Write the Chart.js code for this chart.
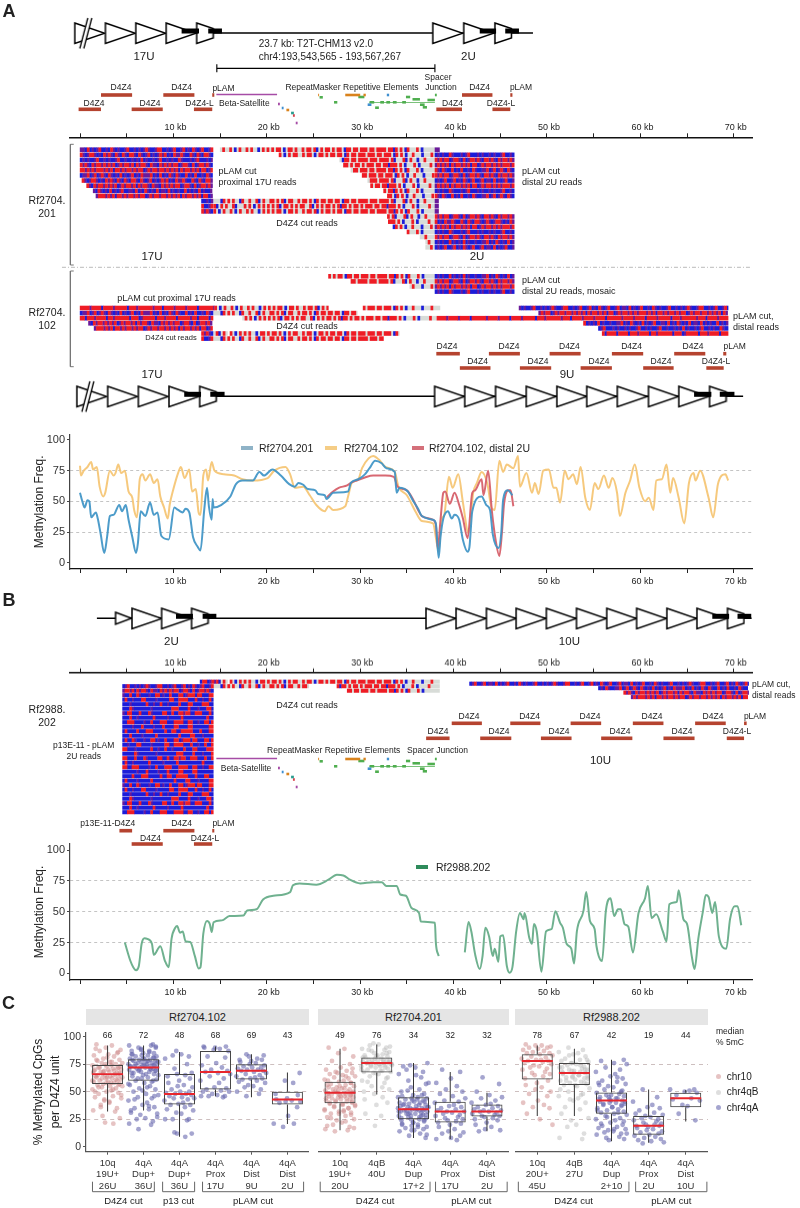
<!DOCTYPE html>
<html>
<head>
<meta charset="utf-8">
<script src="https://cdn.jsdelivr.net/npm/chart.js@4"></script>
<style>
  html, body { margin: 0; padding: 0; background: #fff; }
  body { position: relative; width: 800px; height: 1208px; overflow: hidden; font-family: "Liberation Sans", Arial, sans-serif; color: #222; }
  canvas { position: absolute; }
  .note { position: absolute; white-space: nowrap; line-height: 1; z-index: 5; }
  .strip { position: absolute; top: 1009px; height: 16px; line-height: 16px; background: #e5e5e5; text-align: center; font-size: 11px; color: #222; }
  .swatch { position: absolute; z-index: 5; }
</style>
</head>
<body>
<script>
// ---------- methylation lines, kb position and % methylation ----------
var blueKb = [0,.25,.5,.8,1,1.2,1.7,1.9,2.2,2.6,2.9,3.2,3.6,4.2,4.5,4.9,5.2,5.6,6,6.2,6.5,7,7.5,7.9,8.3,8.7,9.5,10.1,10.5,11,11.3,11.7,12.1,12.6,12.9,13.3,13.6,13.8,14.1,14.2,14.3,15.1,16.1,16.7,17.4,18.5,19.2,19.7,20.6,21.5,22.4,23,23.4,23.9,24.4,25.2,25.5,26.2,26.4,27.1,28.7,29,29.8,30.5,31,31.6,32.3,32.8,33.7,33.9,34.2,35.1,35.7,36.2,36.6,37.8,38.1,38.4,38.6,38.9,39.4,39.8,40.1,40.6,41,41.5,41.7,42,43,43.5,43.9,44.2,44.8,45.1,45.3,45.8,46.3];
var blueVal = [57,50,45,51,50,37,41,36,24,8,21,38,39,47,42,47,35,21,8,16,42,38,49,39,41,22,19,45,43,41,44,41,21,13,10,43,61,46,35,52,45,47,54,64,67,67,74,71,76,71,64,62,65,63.5,60,59,56,55,52,57,58,65,68,72,77,83,81,77,74,57,61,58,50,44,38,35,32,4,21,36,42,36,39,35,18.5,9,13,42,54,47,43,23,12,24,51,59,55];

var yellowKb = [0,.1,.4,.8,1.2,1.4,1.8,2.1,2.5,2.7,3.2,3.6,3.8,4.1,4.4,4.8,5.2,5.6,5.8,6.1,6.4,6.7,7,7.5,7.9,8.3,8.6,9,9.4,9.6,10,10.5,10.8,11.2,11.7,12,12.4,12.7,12.9,13.2,13.5,13.7,14.1,14.4,15.4,16.5,17.4,18.5,20.1,20.8,22,22.5,23,23.9,24.6,25.3,26.2,26.6,27.1,28.4,28.7,29.1,29.8,30.2,30.9,31.4,32,32.7,33.7,34.1,35,35.9,36.6,37.8,38.2,38.4,38.7,39,39.5,39.9,40.5,41,41.6,42.1,42.5,43,43.6,44.1,44.4,44.9,45.3,45.7,46.4,46.9,47.1,47.8,48.4,48.7,49.1,49.6,50.2,50.7,51,51.4,51.9,52.3,52.8,53.2,53.6,54.1,54.6,55.1,55.5,56.1,56.6,57,57.5,57.8,58.4,58.9,59.4,59.9,60.5,60.9,61.4,61.7,62.3,62.8,63.2,63.5,64.1,64.7,65.2,65.7,65.9,66.4,67.3,67.8,68.3,69.1,69.4];
var yellowVal = [79,71,75,78,82,76,78,62,54,57,75,71,73,80,73,75,58,53,43,37,68,72,67,72,65,68,54,45,36,47,60,73,78,69,76,58,60,41,39,71,76,67,82,75,72,71,68,67,69,75,78,72,61,62,55,47,42,46,43,46,54,65,68,77,85,87,84,78,74,62,55,42,34,32,16,9,35,39,70,61,72,49,24,57,65,74,65,44,43,83,74,80,77,87,62,73,57,65,56,75,76,61,61,49,75,68,72,64,78,53,43,65,60,71,61,69,57,38,57,67,80,61,50,53,43,67,68,80,57,69,53,32,65,73,67,75,53,37,64,72,67];

var redKb = [26.4,27.1,27.7,28.6,29,29.6,30.5,31.4,32.7,33.6,34,35,35.7,36.2,36.6,37.8,38.1,38.3,38.6,38.9,39.1,39.6,40.1,40.6,41,41.5,42,42.3,43,43.2,43.7,44.1,44.5,44.9,45.2,45.4,45.9,46.1,46.4];
var redVal = [53,58,61,63,65,67,69.5,71,71,70,62,59,51,43,38,35,31,12,35,57,58,48,57,47,36,20,57,59,68,55,75,42,18.5,5.5,27,48,59,59,46];

var greenKb = [4.8,5.4,5.7,6,6.3,6.6,6.9,7.2,7.7,7.9,8.6,9.1,9.5,9.8,10.2,10.4,10.7,11,11.3,11.8,12.3,12.7,12.9,13.2,13.6,13.9,14.1,14.3,15.2,16,17.5,17.9,18.9,19.6,20.7,22.5,22.8,23.5,25.3,26.6,27.5,28.2,28.9,30,31.4,32.3,32.8,33.9,34.3,34.9,35.5,36.3,36.5,38,38.1,38.4];
var greenVal = [25,10,5,2.5,6,24,28.5,28,24,15,22,10,5,28,37,38.5,33,34,26,25.5,14,4,5,32,42.5,40,33.5,41.5,43,46.5,47,51,52,60,63,66,71.5,73,72,76,80,79.5,76,73,74,74,71,71,64,63,53,49,42,41,25,14];
var green2Kb = [41.2,41.6,41.9,42.3,42.8,43.1,43.4,43.8,44.2,44.4,44.8,45,45.3,45.7,46,46.3,46.7,47.1,47.5,47.6,48.1,48.4,48.6,48.9,49.4,49.9,50.5,50.9,51.4,51.7,52.1,52.6,52.9,53.2,53.9,54.2,54.6,55.1,55.3,55.9,56.3,56.8,57.2,57.6,57.9,58.3,58.7,59.2,59.8,60.5,60.8,61.2,61.7,62.4,62.8,63.1,63.9,64.1,64.6,65,65.5,65.8,66.2,66.7,67,67.3,67.7,68,68.4,69.2,69.6,70.1,70.4,70.8];
var green2Val = [17,41.7,34,15.6,3.5,14,37,30,14,20,9.4,30,31,6,.5,5,34,49,44,49,29,24,40,34,1.3,34,36,50.5,41,37,24,20,8,34,50.5,66,42.5,36,22,10,50.5,61,46.5,52,52,40,38,17,49,61,71,45,48,34,26,56,58,67.5,44,40,14,3.5,28,50.5,63.5,62,49,58,30,20,44,54.5,54.5,39];

// ---------- read pileups: one string per read, 0.25 kb per letter ----------
// r = red, b = blue, p = both, g = grey (no call), w = nothing
var dense = {
  d0: "ppbrbpbprbbpbrpbpbbprbbpbpbprpbbprrbbpbprbbprbpbrpbprbbprb",
  d1: "rpbprrpbpbrprpbrpbrpbrrpbrpbprbpbprprbpbrpprpbbrpbrpbrrpbp",
  d2: "bpbpbbprbbpbpbbprbbpbbpbpbrbpbbpbprbbpbpbbrpbbbpbprbbbpbpb",
  d3: "rprpbrprrprprprbprprrprbrprrpbrppbrprprprrbprrpbrbprrprpbr",
  d4: "prrrpprrprpbrrprprrprrprrprbrrprrbrprprrprrrprpbprrpbrprrp",
  d5: "bpprbprbprpbrpbpbrbpbprbpbrppprbpbrbpbrpbrpbbrbpbrbbpbrpb",
  d6: "rrprprprrrprprbrrprprrprprrbprprrprrprprprbrprrprprbrrbprp",
  d7: "bpprbpbrpbpbrbpbprbbppbrbpbrpbpbrbppbrbpbpbbrbpbpbrbpbbpb",
  h0: "rrrrprrrrbrrrrprrrrrbrrrprrrrrrprrrbrrrrprrrrprrrrbrrrrrrp",
  h1: "rrbrrrprrrrbrrprrrrrrbrrrbprrrrrbrrrprrrrbrrrrrprrbrrrrbrr",
  n0: "pppppppppppppppppppp"
};
// these run from 14 kb to 38 kb
var stripes = {
  s0: "grgbgrggrgbgrggrgrggbgrgrgrgrrgbgrrgrggrgrrgrbgrgrrgrgrrgbrrgrrgrrrgrrgrrrrgrrbrgrgbrgggrgbggggg",
  s1: "ggrbgrgwrgbgrgrgrggbgrrgrgrrgrgbgrgrrggrgrrgbgrrgrgrrgrrgbrgrrgrrrgrrrgrrgrrrgbrgrgbggrgggbgggrg",
  s2: "rgggbrgrgrggbrggrggrbgrggrrgrgrbgrrggrgrrgrgbrgrrgrrgrrgbrrgrrgrrrrgrrrgrrrrgrbgggrbgrggbggrgggg",
  s3: "grbgrgrggrbgggrgrgbgrgrgrgrgrbgrrgrgrgrrggrbgrgrgrrgrgrbrrgrgrrgrgrrrgrrgrrbrrrgrgbgggrgbggggrgg"
};
var denseB = [
  "bbbbbbbbbbbbbbbbbbpbbrbbrpbbbpbbrrbpbbrbbbrrbprrrbrrbbbrrbrr",
  "bbbbbbbbbbbbbbbbbbbbrbbpbbbrrbbbbpbbbbbrrbbrrrrbbbrbbpbbrbbr",
  "bbbbbbbbbbbbbbbbbbrrbbbpbbbbbbrbbpbbrbbpbbbbrbbbrrbbbbrrrbbb",
  "bbbbbbbbbbbbbbbbbbbbbbbbrpbbbbbbbpbbbbbbbbrrrbbbbrbbbpbbbrrb",
  "bbbbbbbbbbbbbbbbbbpbrrbbbrbbbrpbbbbrrbbrbbrrprrbbrrrbbbrbbrr",
  "bbbbbbbbbbbbbbbbbbbbbbrbbpbbbbbbrbbbbbpbbbbbrbbbbbbbbbbrbbbb",
  "bbbbbbbbbbbbbbbbbbrrbbrrrbbbbpbbrbbbrrrbbbrrrrbbrrbbpbbrrbrb",
  "bbbbbbbbbbbbbbbbbbbbbbbbbpbbbrbbbbpbbbrbbbbrrbbbbrrbbbbbbbrr",
  "bbbbbbbbbbbbbbbbbbbrbbbbrbbbrrrbbbbbrbbrrbbrrrrrbbbrbbbrrbbb",
  "bbbbbbbbbbbbbbbbbbpbbbrbbbbpbbbbbrbbbbbbbbbrbbbbrrbbbpbbbbrr"
];

// each row lists its spans: start kb, end kb, pattern
var rowsA201 = [
  [[0,14.3,"d0"],[15,38,"s0"],[38,38.5,"n0"]],
  [[0,14.3,"d1"],[21.3,38,"s1"],[38,46.5,"d2"]],
  [[0,14.2,"d2"],[27.8,38,"s2"],[38,46.5,"d3"]],
  [[0,14.2,"d3"],[28.2,38,"s3"],[38,46.5,"d6"]],
  [[0,14.2,"d6"],[29,38,"s0"],[38,46.5,"d5"]],
  [[0,14.2,"d5"],[30.2,38,"s1"],[38,46.5,"d3"]],
  [[.2,14.3,"d1"],[30.8,38,"s2"],[38,46.5,"d0"]],
  [[.7,14.3,"d3"],[31.1,38,"s3"],[38,46.5,"d6"]],
  [[1.4,14.2,"d7"],[32.5,38,"s0"],[38,46.5,"d2"]],
  [[1.7,14.2,"d6"],[32.9,38,"s1"],[38,46.5,"d5"]],
  [[13,14.3,"d2"],[14.3,38,"s2"],[38,38.4,"n0"]],
  [[13,14.3,"d0"],[14.3,38,"s3"],[38,38.4,"n0"]],
  [[13,14.3,"d3"],[14.3,38,"s0"],[38,38.4,"n0"]],
  [[32.9,38,"s2"],[38,46.5,"d3"]],
  [[33,38,"s3"],[38,46.5,"d1"]],
  [[33.5,38,"s1"],[38,46.5,"d6"]],
  [[35,38,"s0"],[38,46.5,"d2"]],
  [[36.4,38,"s2"],[38,46.5,"d3"]],
  [[37,38,"s3"],[38,46.5,"d7"]],
  [[37,38,"s1"],[38,46.5,"d0"]]
];
var rowsA102top = [
  [[26.6,38,"s0"],[38,46.5,"d7"]],
  [[29,38,"s2"],[38,46.5,"d3"]],
  [[35.3,38,"s1"],[38,46.5,"d6"]],
  [[37.9,38,"s3"],[38,46.5,"d2"]]
];
var rowsA102 = [
  [[0,14.4,"h0"],[14.4,26.6,"s0"],[30.3,38.6,"s1"],[47,69.4,"d0"]],
  [[0,14.3,"d5"],[14.3,29.7,"s2"],[49.1,69.4,"d6"]],
  [[0,14.3,"h1"],[17.4,38.2,"s3"],[38.2,69.4,"h0"]],
  [[.9,14.2,"d3"],[53.9,69.4,"d7"]],
  [[1.5,14.2,"d6"],[55.5,69.4,"d2"]],
  [[13,14.3,"d3"],[14.3,34.2,"s1"],[55.9,69.4,"h1"]],
  [[13,14.3,"d0"],[14.3,32.5,"s2"]]
];
var rowsB = [
  [[12.85,14.8,"d6"],[14.8,38.5,"s1"]],
  [[4.55,14.3,"d0"],[14.3,24.5,"s2"],[27.5,38.5,"s3"]],
  [[4.55,14.3,"d3"],[28.6,38.5,"s0"]]
];
var rowsBdistal = [
  [[41.7,71.6,"d0"]],
  [[55.5,71.6,"d5"]],
  [[58.2,71.6,"d3"]],
  [[59,71.6,"d6"]]
];

// ---------- annotation bars in kb ----------
var d4z4A1 = [[2.25,5.58],[8.92,12.25],[40.9,44.16]];
var d4z4A2 = [[-.15,2.25],[5.53,8.86],[12.2,14.16],[38.15,40.9],[44.16,46.07]];
var plamA = [[14.16,14.38],[46.07,46.3]];
var d4z4A3 = [[38.15,40.67],[43.78,47.1],[50.28,53.6],[56.95,60.3],[63.62,66.95],[68.87,69.2]];
var d4z4A4 = [[40.67,43.95],[47.1,50.45],[53.6,56.95],[60.3,63.56],[67.06,68.92]];
var d4z4B1 = [[39.8,43.03],[46.07,49.3],[52.53,55.8],[59.19,62.47],[65.86,69.14],[71.1,71.38]];
var d4z4B2 = [[37.06,39.57],[42.85,46.18],[49.35,52.63],[55.8,59.14],[62.47,65.8],[69.25,71.1]];
var d4z4B3 = [[4.22,5.58],[8.92,12.25],[14.16,14.38]];
var d4z4B4 = [[5.53,8.86],[12.2,14.16]];
var betaSat = [14.6,21.1];
// start kb, end kb, depth below the track, colour name
var repeats = [
  [21.2,21.4,9,"purple"],[21.6,21.8,13,"blue"],[22.1,22.4,15,"orange"],[22.6,22.9,18,"teal"],[22.8,23,20.5,"red"],[23.1,23.3,28,"purple"],
  [25.5,25.6,0,"orange"],[25.65,26,2.3,"green"],[27.2,27.55,7.3,"green"],[28.4,30,0,"orange"],[29.8,30.45,2,"green"],[30.35,30.6,0,"orange"],
  [32.85,33.1,0,"blue"],[34.9,35.35,2,"green"],[35.6,36.4,4.3,"green"],[31,31.5,7.3,"green"],[32.15,32.55,7.3,"green"],[32.8,33.2,7.3,"green"],
  [33.5,33.9,7.3,"green"],[34.5,34.9,7.3,"green"],[37.2,38,5,"green"],[30.8,31.2,9.7,"blue"],[31.6,32,12.7,"green"],[36.4,36.9,9.7,"green"],[36.7,37.15,12.3,"green"],[38,38.2,0,"green"]
];
var repeatLink = [31,38];

// ---------- repeat array cartoons, unit centres in kb ----------
var unitsTop = { hatched:[1.05], full:[4.33,7.58,10.83,39.38,42.69], cut:[13.35,45.28], small:[], line:[14.2,48.5], boxes:[[10.88,12.74],[13.73,15.2],[42.8,44.55],[45.53,47]] };
var unitsLow = { hatched:[1.27], full:[4.57,7.85,11.13,39.57,42.8,46.1,49.38,52.66,55.86,59.13,62.47,65.72], cut:[13.67,68.26], small:[], line:[14.5,71], boxes:[[11.16,12.96],[13.95,15.48],[65.75,67.6],[68.5,70.07]] };
var unitsB = { hatched:[], full:[7.17,10.34,38.65,41.87,45.12,48.3,51.54,54.76,58,61.2,64.44,67.66], cut:[12.8,70.18], small:[4.66], line:[1.81,71.9], boxes:[[10.28,12.09],[13.13,14.6],[67.7,69.5],[70.4,71.87]] };
var scaleBar = [14.65,38];

// ---------- box plot panels ----------
var cats102 = [["10q","19U+","26U"],["4qA","Dup+","36U"],["4qA","Dup+","36U"],["4qA","Prox","17U"],["4qA","Dist","9U"],["4qA","Dist","2U"]];
var kinds102 = ["chr10","chr4qA","chr4qA","chr4qA","chr4qA","chr4qA"];
var med102 = [66,72,48,68,69,43];
var q1_102 = [57,60,38.5,52,61,38.5];
var q3_102 = [74.2,79.4,66,87,75,50];
var lo102 = [32,33,9,46,45,20.6];
var hi102 = [92,92,86,91,84,67.5];
var pts102 = [
  [93,92,90,88,87,85,84,83,82,80,79,78,77,76,76,75,74,74,73,72,72,71,70,70,69,68,68,67,67,66,66,66,65,65,64,64,63,63,62,62,61,60,60,59,59,58,57,57,56,55,55,54,53,52,51,50,49,48,46,45,44,42,40,38,35,33,32,28,26,22,21,
   89,86,81,79,77,75,73,72,71,70,69,69,68,67,65,64,63,62,61,60,58,58,56,54,52,50,47,43,41,36],
  [93,92,92,90,90,88,87,87,85,85,84,83,83,82,82,81,80,80,79,79,78,78,77,77,76,76,75,75,74,74,73,73,73,72,72,72,71,71,70,70,69,69,68,68,67,66,65,64,63,62,61,60,60,58,56,55,53,52,50,48,47,45,44,42,40,38,36,35,34,33,30,29,26,25,23,21,20,16,
   91,89,86,84,81,80,79,78,77,76,75,74,74,73,71,70,69,67,66,65,62,59,57,54,51,46,43,37,31,27],
  [87,84,83,82,80,75,71,67,66,65,64,62,60,58,56,55,54,52,50,50,49,48,48,47,46,45,44,44,43,42,40,39,38,38,36,34,33,31,30,25,25,25,24,13,12,12,9],
  [91,91,90,90,89,88,87,82,81,76,74,72,70,69,68,67,66,64,62,60,58,54,53,52,51,50,50,48,47,46,46,46,45],
  [84,83,82,80,79,79,78,77,76,75,74,73,72,72,71,70,70,69,69,68,67,66,65,64,63,62,62,61,60,59,58,56,55,54,52,50,48,46],
  [67,60,58,48,47,44,43,42,41,41,40,36,28,21,21,18]
];
var groups102 = [[-.42,1.3,"D4Z4 cut"],[1.53,2.42,"p13 cut"],[2.64,5.45,"pLAM cut"]];

var cats201 = [["10q","19U+","20U"],["4qB","40U"],["4qA","Dup","17+2"],["4qA","Prox","17U"],["4qA","Dist","2U"]];
var kinds201 = ["chr10","chr4qB","chr4qA","chr4qA","chr4qA"];
var med201 = [49,76,34,32,32];
var q1_201 = [39.5,67.5,25,22,27.5];
var q3_201 = [59,81,45,41,38.5];
var lo201 = [15,47.5,8,7,14];
var hi201 = [89,93,76,68,49];
var pts201 = [
  [90,89,85,82,78,75,72,70,69,68,67,66,65,64,63,62,61,60,59,58,57,56,56,55,54,53,52,52,51,50,50,49,49,48,48,47,47,46,46,45,45,44,43,43,42,41,41,40,39,38,37,36,35,34,33,32,31,30,28,27,25,24,22,20,18,16,15,14,
   71,67,64,60,58,55,54,53,51,50,48,47,46,44,44,42,41,40,39,38,37,35,33,32,30,29,26,23,19,17],
  [94,93,92,90,89,88,87,86,85,84,83,82,82,81,80,80,79,79,78,78,77,77,76,76,76,75,75,74,74,73,73,72,71,70,69,68,68,67,66,64,62,60,58,55,52,48,45,43,40,38,30,28,19,
   91,88,85,83,81,79,78,77,76,75,74,73,72,70,69,67,63,59,54,50],
  [76,74,72,70,68,66,63,60,57,54,52,50,48,47,46,45,44,44,43,42,41,40,40,39,38,38,37,36,36,35,35,34,34,34,33,33,32,32,31,30,30,29,28,28,27,26,25,25,24,23,22,21,20,19,18,17,16,15,14,12,10,8,
   73,65,58,51,47,45,43,42,41,39,38,37,36,35,34,33,33,32,31,30,29,28,27,26,24,22,20,18,15,11],
  [70,68,62,58,55,52,50,48,46,44,42,41,40,38,37,36,35,34,33,32,32,31,30,29,28,27,26,25,24,23,22,21,20,18,16,14,13,12,10,8,7,6],
  [63,57,50,47,45,44,42,40,39,38,37,36,35,34,33,33,32,32,31,30,29,28,28,27,26,25,24,22,20,18,16,15,14]
];
var groups201 = [[-.54,2.45,"D4Z4 cut"],[2.6,4.55,"pLAM cut"]];

var cats202 = [["10q","20U+","45U"],["4qB","27U"],["4qA","Dup","2+10"],["4qA","Prox","2U"],["4qA","Dist","10U"]];
var kinds202 = ["chr10","chr4qB","chr4qA","chr4qA","chr4qA"];
var med202 = [78,67,42,19,44];
var q1_202 = [61,56,30,11,36];
var q3_202 = [84,76,49.4,28,49];
var lo202 = [28,28,5,3.6,23];
var hi202 = [92,89,79,52,51.5];
var pts202 = [
  [93,92,92,91,90,90,89,88,87,86,85,85,84,83,82,81,80,79,79,78,78,77,76,75,74,73,72,71,70,68,67,66,65,64,62,60,58,56,54,52,50,48,46,42,40,38,36,35,30,25,20],
  [90,88,86,85,84,82,80,79,78,77,76,75,74,73,72,71,70,70,69,68,68,67,67,66,65,64,64,63,62,61,60,59,58,57,56,55,53,50,48,46,44,42,40,36,34,30,26,24,20,18,12,8,7,
   83,79,76,74,72,70,69,67,65,63,62,60,58,56,52,47,43],
  [79,78,76,75,72,70,68,66,64,62,60,59,58,57,55,54,52,50,49,48,47,46,45,44,43,42,42,41,40,40,39,38,37,36,35,34,33,32,31,30,29,28,26,25,24,22,20,19,18,17,16,15,14,13,12,11,9,8,7,6,
   63,56,51,47,45,44,43,41,39,38,36,33,31,27,23,21,16,12],
  [52,45,41,38,36,35,33,31,30,29,28,27,26,25,24,23,22,21,20,20,19,19,18,17,16,15,14,13,12,11,10,9,8,7,6,5,4,3],
  [52,52,51,50,49,47,44,43,42,38,37,30,24]
];
var groups202 = [[-.51,2.47,"D4Z4 cut"],[2.65,4.57,"pLAM cut"]];
var jitter = [-.31,.12,-.05,.36,-.22,.27,.02,-.38,.18,-.12,.33,-.28,.07,.41,-.16,.23,-.42,.1,-.03,.3,-.25,.15,-.35,.38,-.09,.05,-.19,.26,-.4,.21,-.14,.34,-.07,.16,-.33,.29,-.01];

// ---------- styling ----------
var FONT = '"Liberation Sans", Arial, sans-serif';
var cellColor = { r:"#ee1c25", b:"#1c1cd8", p:"#6a1a9a", g:"#d8dcd8" };
var repeatColor = { purple:"#a64ca6", blue:"#3f8fd0", orange:"#d9821c", teal:"#2a9d8f", red:"#d9404a", green:"#4fae4f" };
var kindColor = { chr10:"rgba(205,135,135,.5)", chr4qB:"rgba(190,190,190,.5)", chr4qA:"rgba(105,105,175,.6)" };
var BROWN = "#b5432f";
var CELL = 0.25;

Chart.defaults.font.family = FONT;
Chart.defaults.animation = false;
Chart.defaults.events = [];
Chart.defaults.plugins.legend.display = false;
Chart.defaults.plugins.tooltip.enabled = false;
// the page positions each chart by hand, so no padding for overflowing points
Chart.defaults.layout.autoPadding = false;

function addCanvas(left, top, w, h) {
  var c = document.createElement("canvas");
  c.width = w; c.height = h;
  c.style.left = left + "px"; c.style.top = top + "px";
  c.style.width = w + "px"; c.style.height = h + "px";
  document.body.appendChild(c);
  return c.getContext("2d");
}

function note(text, x, y, size, align, weight) {
  var d = document.createElement("div");
  d.className = "note";
  d.textContent = text;
  d.style.left = x + "px"; d.style.top = y + "px";
  d.style.fontSize = size + "px";
  if (weight) d.style.fontWeight = weight;
  d.style.transform = align == "l" ? "translate(0,-50%)" : "translate(-50%,-50%)";
  document.body.appendChild(d);
}

function zip(xs, ys) {
  var out = [];
  for (var i = 0; i < xs.length; i++) out.push({ x: xs[i], y: ys[i] });
  return out;
}

// keep chart area exactly where asked, tick labels may hang over
function fixedScale(s, w, h) {
  if (w !== null) s.width = w;
  if (h !== null) s.height = h;
  s.paddingTop = 0; s.paddingBottom = 0; s.paddingLeft = 0; s.paddingRight = 0;
}

// ---------- tracks chart: whole page in kb against page height ----------
function cellAt(pattern, kb, shift) {
  var i;
  if (stripes[pattern]) {
    i = Math.floor((kb - 14) / CELL);
    return stripes[pattern][i] || "g";
  }
  var s = dense[pattern];
  i = Math.floor(kb / CELL + 1e-6) + (shift || 0);
  return s[i % s.length];
}

function addRows(rows, y0, step, out) {
  rows.forEach(function(row, n) {
    row.forEach(function(span) {
      var pat = span[2];
      var start = span[0], cur = null, kb;
      var steps = Math.round((span[1] - span[0]) / CELL);
      for (var k = 0; k <= steps; k++) {
        kb = span[0] + k * CELL;
        var c = k == steps ? null : cellAt(pat, kb, span[3]);
        if (c !== cur) {
          if (cur && cur != "w") out[cur].push({ x: [start, Math.min(kb, span[1])], y: y0 + n * step });
          cur = c; start = kb;
        }
      }
    });
  });
}

function emptyCells() { return { r: [], b: [], p: [], g: [] }; }

function barSet(color, thick, pts, order, inflate) {
  return { type: "bar", backgroundColor: color, barThickness: thick, stack: "a", inflateAmount: inflate || 0, data: pts, order: order };
}

function rowBars(list, y) {
  return list.map(function(p) { return { x: [p[0], p[1]], y: y }; });
}

function triangleImage(w, h, kind) {
  var pad = 2, extra = kind == "hatched" ? 5 : 0;
  var c = document.createElement("canvas");
  c.width = w + pad * 2; c.height = h + pad * 2 + extra * 2;
  var g = c.getContext("2d");
  var top = pad + extra, bot = top + h, mid = top + h / 2, l = pad, r = pad + w;
  g.lineWidth = 1.5; g.strokeStyle = "#000"; g.fillStyle = "#fff";
  g.beginPath();
  if (kind == "cut") {
    g.moveTo(l, top); g.lineTo(r, top + h * 0.27); g.lineTo(r, bot - h * 0.27); g.lineTo(l, bot);
  } else {
    g.moveTo(l, top); g.lineTo(r, mid); g.lineTo(l, bot);
  }
  g.closePath(); g.fill(); g.stroke();
  if (kind == "hatched") {
    var a = l + 6;
    g.strokeStyle = "#fff"; g.lineWidth = 3.2;
    g.beginPath(); g.moveTo(a + 1, bot + extra); g.lineTo(a + 9, top - extra); g.stroke();
    g.strokeStyle = "#000"; g.lineWidth = 1.3;
    g.beginPath(); g.moveTo(a - 1, bot + extra); g.lineTo(a + 7, top - extra); g.stroke();
    g.beginPath(); g.moveTo(a + 3, bot + extra); g.lineTo(a + 11, top - extra); g.stroke();
  }
  return c;
}

var triImg = {
  full: triangleImage(30, 20.5, "full"),
  hatched: triangleImage(30, 20.5, "hatched"),
  cut: triangleImage(16.5, 20.5, "cut"),
  small: triangleImage(16, 12, "full")
};

function cartoon(u, y, sets) {
  sets.push(barSet("#000", 1.6, [{ x: u.line, y: y }], 9));
  ["full", "hatched", "cut", "small"].forEach(function(kind) {
    if (!u[kind].length) return;
    sets.push({
      type: "scatter", pointStyle: triImg[kind], pointRadius: 1, order: 8,
      data: u[kind].map(function(k) { return { x: k, y: y }; })
    });
  });
  sets.push(barSet("#000", 5, rowBars(u.boxes, y - 2), 7));
}

function repeatSet(y, sets) {
  sets.push(barSet("#a64ca6", 1.6, [{ x: betaSat, y: y - .5 }], 6));
  sets.push(barSet("#4fae4f", .8, [{ x: repeatLink, y: y + 7.3 }], 6));
  Object.keys(repeatColor).forEach(function(name) {
    var pts = repeats.filter(function(r) { return r[3] == name; })
      .map(function(r) { return { x: [r[0], r[1]], y: y + r[2] }; });
    sets.push(barSet(repeatColor[name], 2.6, pts, 5));
  });
}

function pathSet(points, color, width, dash) {
  return { type: "scatter", showLine: true, data: points, borderColor: color, borderWidth: width, borderDash: dash || [], pointRadius: 0, order: 6 };
}

function buildTracks() {
  var sets = [];
  var cellsA = emptyCells(), cellsB = emptyCells();
  addRows(rowsA201, 149.7, 5.14, cellsA);
  addRows(rowsA102top, 276.3, 5.1, cellsA);
  addRows(rowsA102, 308, 5.1, cellsA);
  addRows(rowsB, 681.7, 4.5, cellsB);
  addRows(rowsBdistal, 683.7, 4.47, cellsB);
  // p13E-11 to pLAM block, cycling the typed blue-rich reads
  var blockRows = [];
  for (var i = 0; i < 27; i++) {
    var key = "B" + (i % denseB.length);
    dense[key] = denseB[i % denseB.length];
    blockRows.push([[4.55, 14.28, key, i % 4]]);
  }
  addRows(blockRows, 695.2, 4.5, cellsB);
  ["r", "b", "p", "g"].forEach(function(c) {
    sets.push(barSet(cellColor[c], 4.2, cellsA[c], 3, .2));
    sets.push(barSet(cellColor[c], 3.7, cellsB[c], 3, .2));
  });

  sets.push(barSet(BROWN, 3.6, rowBars(d4z4A1.concat(plamA), 95), 4));
  sets.push(barSet(BROWN, 3.6, rowBars(d4z4A2, 109.3), 4));
  sets.push(barSet(BROWN, 3.6, rowBars(d4z4A3, 353.7), 4));
  sets.push(barSet(BROWN, 3.6, rowBars(d4z4A4, 368), 4));
  sets.push(barSet(BROWN, 3.6, rowBars(d4z4B1, 723.3), 4));
  sets.push(barSet(BROWN, 3.6, rowBars(d4z4B2, 738.3), 4));
  sets.push(barSet(BROWN, 3.6, rowBars(d4z4B3, 830.7), 4));
  sets.push(barSet(BROWN, 3.6, rowBars(d4z4B4, 844), 4));

  repeatSet(95, sets);
  repeatSet(759, sets);

  cartoon(unitsTop, 33, sets);
  cartoon(unitsLow, 396.3, sets);
  cartoon(unitsB, 618.3, sets);

  // scale bar under the top cartoon
  sets.push(barSet("#000", 1.2, [{ x: scaleBar, y: 68.3 }], 6));
  sets.push(barSet("#000", 8, [{ x: [scaleBar[0] - .06, scaleBar[0] + .06], y: 68.3 }, { x: [scaleBar[1] - .06, scaleBar[1] + .06], y: 68.3 }], 6));

  // sample brackets and the divider between them
  var bx = -.67, bl = -1.03;
  sets.push(pathSet([{x:bx,y:144.3},{x:bl,y:144.3},{x:bl,y:265},{x:bx,y:265}], "#777", 1));
  sets.push(pathSet([{x:bx,y:271},{x:bl,y:271},{x:bl,y:366.7},{x:bx,y:366.7}], "#777", 1));
  sets.push(pathSet([{x:-1.93,y:267.3},{x:71.95,y:267.3}], "#bbb", 1, [4,2,1,2]));

  new Chart(addCanvas(0, 0, 800, 1208), {
    type: "bar",
    data: { datasets: sets },
    options: {
      responsive: false, devicePixelRatio: 1, indexAxis: "y",
      layout: { padding: 0 },
      scales: {
        x: { type: "linear", display: false, min: -8.565, max: 77.09, stacked: false },
        y: { type: "linear", display: false, min: 0, max: 1208, reverse: true, offset: false, grid: { offset: false } }
      }
    }
  });
}

// ---------- kb rulers and line charts share this x axis ----------
function kbAxis(position, pad) {
  return {
    type: "linear", position: position, min: -1.071, max: 71.95,
    afterFit: function(s) { fixedScale(s, null, pad); },
    border: { color: "#111", width: position == "top" ? 1.6 : 1.2 },
    grid: { drawOnChartArea: false, drawTicks: true, tickLength: 4, tickColor: "#222" },
    ticks: {
      stepSize: 5, includeBounds: false, autoSkip: false, maxRotation: 0, minRotation: 0,
      color: "#222", padding: position == "top" ? 0 : 3, labelOffset: 2, font: { size: 9 },
      callback: function(v) { return v > 0 && v % 10 == 0 ? v + " kb" : ""; }
    }
  };
}

function ruler(top, axisY) {
  new Chart(addCanvas(0, top, 800, axisY - top + 4), {
    type: "scatter",
    data: { datasets: [] },
    options: {
      responsive: false, devicePixelRatio: 1,
      layout: { padding: { left: 70, right: 48 } },
      scales: { x: kbAxis("top", axisY - top), y: { display: false } }
    }
  });
}

function methChart(top, areaTop, areaBottom, yMin, yMax, datasets) {
  new Chart(addCanvas(0, top, 800, areaBottom + 21 - top), {
    type: "line",
    data: { datasets: datasets },
    options: {
      responsive: false, devicePixelRatio: 1, parsing: true,
      layout: { padding: { left: 29, right: 48, top: areaTop - top, bottom: 0 } },
      elements: { point: { radius: 0 }, line: { tension: 0 } },
      scales: {
        x: kbAxis("bottom", 21),
        y: {
          min: yMin, max: yMax,
          afterFit: function(s) { fixedScale(s, 41, null); },
          title: { display: true, text: "Methylation Freq.", color: "#222", font: { size: 12 }, padding: { top: 3, bottom: 0 } },
          border: { color: "#444", width: 1.2, dash: [3, 3] },
          grid: {
            tickLength: 3, tickColor: "#444",
            color: function(ctx) { return [25, 50, 75].indexOf(ctx.tick.value) >= 0 ? "#c4c4c4" : "transparent"; }
          },
          ticks: { stepSize: 25, includeBounds: false, color: "#333", padding: 2, font: { size: 11 } }
        }
      }
    }
  });
}

function lineSet(xs, ys, color, order) {
  return { data: zip(xs, ys), borderColor: color, borderWidth: 2, order: order, fill: false, cubicInterpolationMode: "monotone" };
}

// ---------- box plot panels ----------
var groupLabels = {
  id: "groupLabels",
  afterDatasetsDraw: function(chart, args, o) {
    var g = chart.ctx, x = chart.scales.x, area = chart.chartArea;
    g.save();
    g.fillStyle = "#222"; g.textAlign = "center"; g.textBaseline = "middle";
    g.font = "8.5px " + FONT;
    o.medians.forEach(function(m, i) { g.fillText(m, x.getPixelForValue(i), area.top + 3.4); });
    g.strokeStyle = "#666"; g.lineWidth = 1;
    g.font = "9.5px " + FONT;
    o.groups.forEach(function(b) {
      var a0 = x.getPixelForValue(b[0]), a1 = x.getPixelForValue(b[1]);
      var t = area.bottom + 30, u = area.bottom + 40;
      g.beginPath(); g.moveTo(a0, t); g.lineTo(a0, u); g.lineTo(a1, u); g.lineTo(a1, t); g.stroke();
      g.fillText(b[2], (a0 + a1) / 2, area.bottom + 49.5);
    });
    g.restore();
  }
};

function boxPanel(left, width, withAxis, cats, kinds, med, q1, q3, lo, hi, pts, groups) {
  var points = [], n = 0;
  pts.forEach(function(vals, slot) {
    vals.forEach(function(v) {
      points.push({ x: slot + jitter[n % jitter.length], y: v, kind: kinds[slot] });
      n++;
    });
  });
  var whisk = [], box = [], mid = [];
  cats.forEach(function(c, i) {
    whisk.push({ x: i, y: [lo[i], q1[i]] });
    whisk.push({ x: i, y: [q3[i], hi[i]] });
    box.push({ x: i, y: [q1[i], q3[i]] });
    mid.push({ x: i, y: [med[i] - .9, med[i] + .9] });
  });
  var yAxis = {
    min: -4.5, max: 104, stacked: false,
    afterFit: function(s) { fixedScale(s, withAxis ? 55 : 0, null); },
    border: { display: withAxis, color: "#555", width: 1.2, dash: [4, 4] },
    grid: {
      drawTicks: withAxis, tickLength: 3, tickColor: "#555",
      color: function(ctx) { return [25, 50, 75].indexOf(ctx.tick.value) >= 0 ? "#cdbfbf" : "transparent"; }
    },
    ticks: { display: withAxis, stepSize: 25, includeBounds: false, color: "#333", padding: 2, font: { size: 10.5 } },
    title: { display: withAxis, text: ["% Methylated CpGs", "per D4Z4 unit"], color: "#222", font: { size: 12, lineHeight: 1.35 }, padding: { top: 0, bottom: 0 } }
  };
  new Chart(addCanvas(left - (withAxis ? 86 : 0), 1028, width + (withAxis ? 86 : 0), 180), {
    type: "bar",
    data: {
      datasets: [
        { type: "scatter", data: points, order: 4, pointRadius: 2.4, pointBorderWidth: 0,
          pointBackgroundColor: function(ctx) { return ctx.raw ? kindColor[ctx.raw.kind] : "transparent"; } },
        { type: "bar", data: whisk, order: 3, stack: "a", barThickness: 1, inflateAmount: 0, backgroundColor: "#333" },
        { type: "bar", data: box, order: 2, stack: "a", barThickness: 31, inflateAmount: 0, backgroundColor: "transparent", borderColor: "#444", borderWidth: 1, borderSkipped: false },
        { type: "bar", data: mid, order: 1, stack: "a", barThickness: 31, inflateAmount: 0, backgroundColor: "#e8262d" }
      ]
    },
    plugins: [groupLabels],
    options: {
      responsive: false, devicePixelRatio: 1,
      layout: { padding: { left: withAxis ? 31 : 0, right: 0, top: 4.3, bottom: 0 } },
      plugins: { groupLabels: { medians: med, groups: groups } },
      scales: {
        x: {
          type: "linear", min: -.6, max: cats.length - .4, offset: false,
          afterFit: function(s) { fixedScale(s, null, 56.3); },
          border: { color: "#555", width: 1.2 },
          grid: { offset: false, drawOnChartArea: false, tickLength: 3, tickColor: "#555" },
          ticks: {
            stepSize: 1, includeBounds: false, autoSkip: false, maxRotation: 0, minRotation: 0,
            color: "#333", padding: 3, font: { size: 9.5, lineHeight: 1.2 },
            callback: function(v) { return cats[v]; }
          }
        },
        y: yAxis
      }
    }
  });
}

// ---------- draw everything ----------
buildTracks();
ruler(115, 137.3);
ruler(650, 671.7);

methChart(430, 434.7, 569, -5.1, 104.3, [
  lineSet(blueKb, blueVal, "rgba(62,148,198,.92)", 1),
  lineSet(redKb, redVal, "rgba(214,96,106,.95)", 2),
  lineSet(yellowKb, yellowVal, "rgba(245,198,118,.95)", 3)
]);
methChart(840, 844, 980, -5.4, 105, [
  lineSet(greenKb, greenVal, "#6fb18f", 1),
  lineSet(green2Kb, green2Val, "#6fb18f", 1)
]);

boxPanel(86, 223, true, cats102, kinds102, med102, q1_102, q3_102, lo102, hi102, pts102, groups102);
boxPanel(318, 191, false, cats201, kinds201, med201, q1_201, q3_201, lo201, hi201, pts201, groups201);
boxPanel(515, 193, false, cats202, kinds202, med202, q1_202, q3_202, lo202, hi202, pts202, groups202);

// ---------- all the loose text ----------
var notes = [
  ["A",2.5,10.5,18,"l","bold"],["B",2.5,600,18,"l","bold"],["C",2,1003,18,"l","bold"],
  ["23.7 kb: T2T-CHM13 v2.0",258.7,44,10,"l"],["chr4:193,543,565 - 193,567,267",258.7,57,10,"l"],
  ["17U",144,56.7,11.5],["2U",468.4,56.7,11.5],
  ["D4Z4",121,87,8.5],["D4Z4",181.6,87,8.5],["pLAM",223.5,87.5,8.5],["RepeatMasker Repetitive Elements",352,87,8.5],
  ["Spacer",438,76.7,8.5],["Junction",441,87,8.5],["D4Z4",479.6,87,8.5],["pLAM",521,87,8.5],
  ["D4Z4",94,102.7,8.5],["D4Z4",150,102.7,8.5],["D4Z4-L",199.5,102.7,8.5],["Beta-Satellite",244.4,102.7,8.5],["D4Z4",452.5,102.7,8.5],["D4Z4-L",501,102.7,8.5],
  ["pLAM cut",218.4,170.7,9,"l"],["proximal 17U reads",218.4,182,9,"l"],["pLAM cut",522,170.7,9,"l"],["distal 2U reads",522,182,9,"l"],
  ["Rf2704.",47,200,10.5],["201",47,213.3,10.5],["D4Z4 cut reads",307,223.3,9],["17U",152,257.3,11.5],["2U",477,257.3,11.5],
  ["pLAM cut",522,280,9,"l"],["distal 2U reads, mosaic",522,291,9,"l"],["pLAM cut proximal 17U reads",176.5,298.3,9],
  ["Rf2704.",47,312,10.5],["102",47,325,10.5],["D4Z4 cut reads",307,326.3,9],["pLAM cut,",733,315.7,9,"l"],["distal reads",733,326.7,9,"l"],["D4Z4 cut reads",171,338.3,7.5],
  ["D4Z4",447,346,8.5],["D4Z4",509,346,8.5],["D4Z4",569.4,346,8.5],["D4Z4",631.6,346,8.5],["D4Z4",693,346,8.5],["pLAM",734.7,346,8.5],
  ["D4Z4",477.6,360.7,8.5],["D4Z4",538,360.7,8.5],["D4Z4",599,360.7,8.5],["D4Z4",661,360.7,8.5],["D4Z4-L",716,360.7,8.5],
  ["17U",152,375.3,11.5],["9U",567,375.3,11.5],
  ["2U",171.4,641.7,11.5],["10U",569.4,641.7,11.5],
  ["pLAM cut,",752,684.3,8.5,"l"],["distal reads",752,695.3,8.5,"l"],["D4Z4 cut reads",307,704.7,9],
  ["Rf2988.",47,709.3,10.5],["202",47,722.3,10.5],
  ["D4Z4",469,715.7,8.5],["D4Z4",529.6,715.7,8.5],["D4Z4",590,715.7,8.5],["D4Z4",652,715.7,8.5],["D4Z4",713,715.7,8.5],["pLAM",755,716.3,8.5],
  ["D4Z4",438,731.3,8.5],["D4Z4",499,731.3,8.5],["D4Z4",559,731.3,8.5],["D4Z4",620,731.3,8.5],["D4Z4",682,731.3,8.5],["D4Z4-L",737,731.3,8.5],
  ["p13E-11 - pLAM",83.7,745,8.5],["2U reads",83.7,755.7,8.5],
  ["RepeatMasker Repetitive Elements",333.7,750.3,8.5],["Spacer Junction",437.5,750.3,8.5],["Beta-Satellite",246,768.3,8.5],["10U",600.5,761,11.5],
  ["p13E-11-D4Z4",107.7,823,8.5],["D4Z4",181.6,823,8.5],["pLAM",223.5,823,8.5],["D4Z4",150.5,837.7,8.5],["D4Z4-L",205,837.7,8.5],
  ["Rf2704.201",259,448,10.5,"l"],["Rf2704.102",344,448,10.5,"l"],["Rf2704.102, distal 2U",429,448,10.5,"l"],
  ["Rf2988.202",436,866.7,10.5,"l"],
  ["median",716,1030.5,8.5,"l"],["% 5mC",716,1042,8.5,"l"],
  ["chr10",726.7,1076.7,10,"l"],["chr4qB",726.7,1092,10,"l"],["chr4qA",726.7,1107.7,10,"l"]
];
notes.forEach(function(n) { note(n[0], n[1], n[2], n[3], n[4], n[5]); });

// legend swatches
[[241,448,"#8fb3c7"],[325,448,"#f5cd86"],[412,448,"#d4707a"],[416,866.7,"#2e8b5b"]].forEach(function(s) {
  var d = document.createElement("div");
  d.className = "swatch";
  d.style.cssText = "left:" + s[0] + "px;top:" + (s[1] - 2) + "px;width:12px;height:4px;background:" + s[2];
  document.body.appendChild(d);
});
[[1076.7,"rgba(205,135,135,.5)"],[1092,"rgba(190,190,190,.5)"],[1107.7,"rgba(105,105,175,.6)"]].forEach(function(s) {
  var d = document.createElement("div");
  d.className = "swatch";
  d.style.cssText = "left:715.5px;top:" + (s[0] - 2.5) + "px;width:5px;height:5px;border-radius:50%;background:" + s[1];
  document.body.appendChild(d);
});
// facet strips
[[86,223,"Rf2704.102"],[318,191,"Rf2704.201"],[515,193,"Rf2988.202"]].forEach(function(s) {
  var d = document.createElement("div");
  d.className = "strip";
  d.style.left = s[0] + "px"; d.style.width = s[1] + "px";
  d.textContent = s[2];
  document.body.appendChild(d);
});
</script>
</body>
</html>
